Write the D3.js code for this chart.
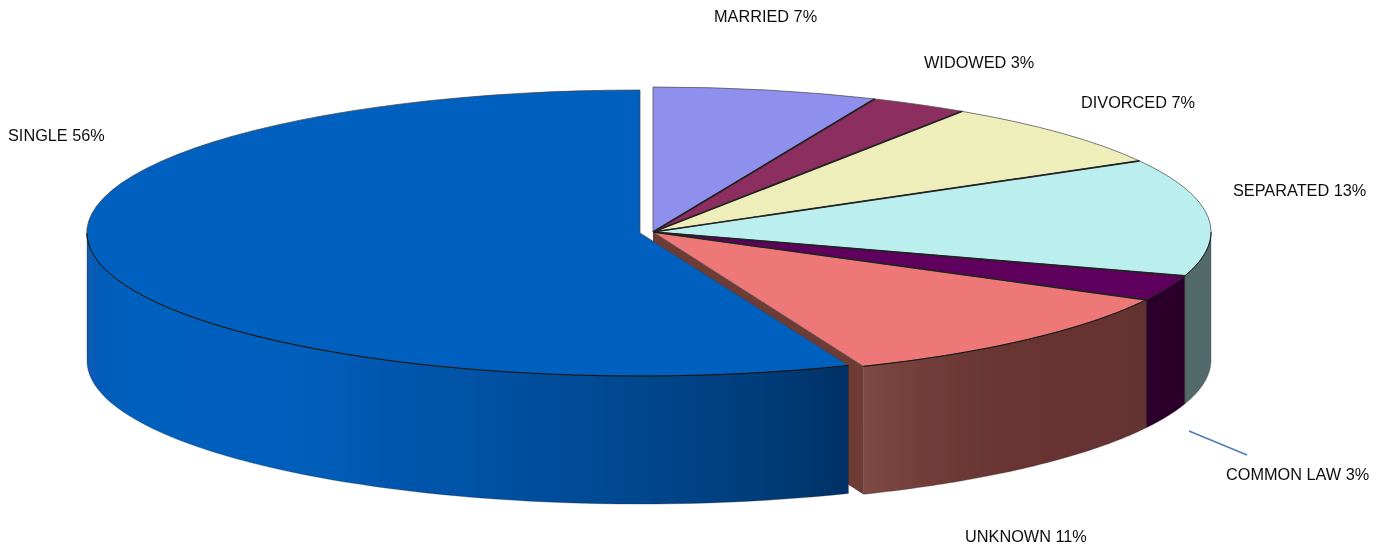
<!DOCTYPE html>
<html>
<head>
<meta charset="utf-8">
<script src="https://cdn.jsdelivr.net/npm/d3@7"></script>
<style>
body { margin: 0; background: #fff; }
text { font-family: "Liberation Sans", Arial, sans-serif; font-size: 16.3px; fill: #111; }
</style>
</head>
<body>
<svg></svg>
<script>
const categories = ["MARRIED", "WIDOWED", "DIVORCED", "SEPARATED", "COMMON LAW", "UNKNOWN", "SINGLE"];
const sliceValues = [6.5, 2.85, 7.5, 13.05, 2.85, 11.1, 56.15];
const percentLabels = [7, 3, 7, 13, 3, 11, 56];
const topColors = ["#8f8fee", "#8c2d5e", "#eeeebb", "#bbeeee", "#5e005e", "#ee7777", "#0060c0"];
const wallColors = ["#5a5a96", "#581c3b", "#96966f", "#526a6a", "#2c002c", "#683431", "#00478f"];

const width = 1389, height = 550;
const svg = d3.select("svg").attr("width", width).attr("height", height);
const defs = svg.append("defs");
defs.append("filter").attr("id", "soft")
    .append("feGaussianBlur").attr("stdDeviation", 0.5);
defs.append("filter").attr("id", "softText")
    .append("feGaussianBlur").attr("stdDeviation", 0.25);

// the main group, and the pulled out SINGLE slice
const main = { cx: 653, cy: 232, rx: 558, ry: 145 };
const pulled = { cx: 640, cy: 233, rx: 553, ry: 143 };
const depth = 128;

const pie = d3.pie().sort(null).value(d => d);
const slices = pie(sliceValues);

function project(g, a, dy = 0) {
    return [g.cx + g.rx * Math.sin(a), g.cy - g.ry * Math.cos(a) + dy];
}

function frontAngles(s) {
    const a0 = Math.max(s.startAngle, Math.PI / 2);
    const a1 = Math.min(s.endAngle, Math.PI * 1.5);
    if (a1 <= a0) return null;
    return d3.range(0, 61).map(i => a0 + (a1 - a0) * i / 60);
}

// curved outer wall, only the part that faces the viewer
function wallPath(g, s) {
    const steps = frontAngles(s);
    if (!steps) return null;
    const top = steps.map(a => project(g, a));
    const bottom = steps.slice().reverse().map(a => project(g, a, depth));
    return d3.line()(top.concat(bottom)) + "Z";
}

function wallGradient(id, stops) {
    const grad = defs.append("linearGradient").attr("id", id)
        .attr("gradientUnits", "userSpaceOnUse")
        .attr("x1", 87).attr("x2", 1211).attr("y1", 0).attr("y2", 0);
    stops.forEach(s => grad.append("stop")
        .attr("offset", (s[0] - 87) / (1211 - 87))
        .attr("stop-color", s[1]));
    return `url(#${id})`;
}
const singleWall = wallGradient("singleWall", [
    [87, "#085ab4"], [130, "#0060bd"], [290, "#005fbc"], [400, "#0056ad"],
    [520, "#004f9f"], [620, "#004890"], [760, "#003c7a"], [847, "#003267"]
]);
const unknownWall = wallGradient("unknownWall", [
    [863, "#7f4945"], [930, "#703c38"], [1010, "#683431"], [1146, "#653230"]
]);

function wallFill(i) {
    if (categories[i] === "SINGLE") return singleWall;
    if (categories[i] === "UNKNOWN") return unknownWall;
    return wallColors[i];
}

const topArc = d3.arc().innerRadius(0).outerRadius(1);
const pieGroup = svg.append("g").attr("filter", "url(#soft)");

function drawWall(g, i) {
    const d = wallPath(g, slices[i]);
    if (d) pieGroup.append("path").attr("d", d)
        .attr("fill", wallFill(i))
        .attr("stroke", "#222").attr("stroke-width", 0.3);
}

function drawTop(g, i) {
    pieGroup.append("path")
        .attr("d", topArc(slices[i]))
        .attr("transform", `translate(${g.cx},${g.cy}) scale(${g.rx},${g.ry})`)
        .attr("fill", topColors[i])
        .attr("stroke", "#444")
        .attr("stroke-width", 0.7)
        .attr("vector-effect", "non-scaling-stroke");
    // the front rim is darker than the back one
    const steps = frontAngles(slices[i]);
    if (steps) pieGroup.append("path")
        .attr("d", d3.line()(steps.map(a => project(g, a))))
        .attr("fill", "none")
        .attr("stroke", "#111")
        .attr("stroke-width", 1);
}

const singleIndex = categories.indexOf("SINGLE");
const unknownIndex = categories.indexOf("UNKNOWN");
const mainIdx = d3.range(categories.length).filter(i => i !== singleIndex);

mainIdx.forEach(i => drawWall(main, i));

// cut face of UNKNOWN, it shows in the gap next to SINGLE
const edge = project(main, slices[unknownIndex].endAngle);
pieGroup.append("path")
    .attr("d", d3.line()([
        [main.cx, main.cy], edge, [edge[0], edge[1] + depth], [main.cx, main.cy + depth]
    ]) + "Z")
    .attr("fill", "#6e3a36");

mainIdx.forEach(i => drawTop(main, i));

// the dark lines between the slices of the main group
pieGroup.append("g").selectAll("line")
    .data(slices.filter((s, i) => i > 0 && i !== singleIndex))
    .enter().append("line")
    .attr("x1", main.cx).attr("y1", main.cy)
    .attr("x2", d => project(main, d.startAngle)[0])
    .attr("y2", d => project(main, d.startAngle)[1])
    .attr("stroke", "#222")
    .attr("stroke-width", 1.7);

drawWall(pulled, singleIndex);
drawTop(pulled, singleIndex);

// labels, placed by hand like the original
const labelPos = [[714, 22], [924, 68], [1081, 108], [1233, 196], [1226, 480], [965, 542], [8, 141]];
svg.append("g").attr("filter", "url(#softText)").selectAll("text")
    .data(categories)
    .enter().append("text")
    .attr("x", (d, i) => labelPos[i][0])
    .attr("y", (d, i) => labelPos[i][1])
    .text((d, i) => `${d} ${percentLabels[i]}%`);

svg.append("line")
    .attr("x1", 1189).attr("y1", 431)
    .attr("x2", 1247).attr("y2", 455)
    .attr("stroke", "#4a7ebb").attr("stroke-width", 1.5);
</script>
</body>
</html>
